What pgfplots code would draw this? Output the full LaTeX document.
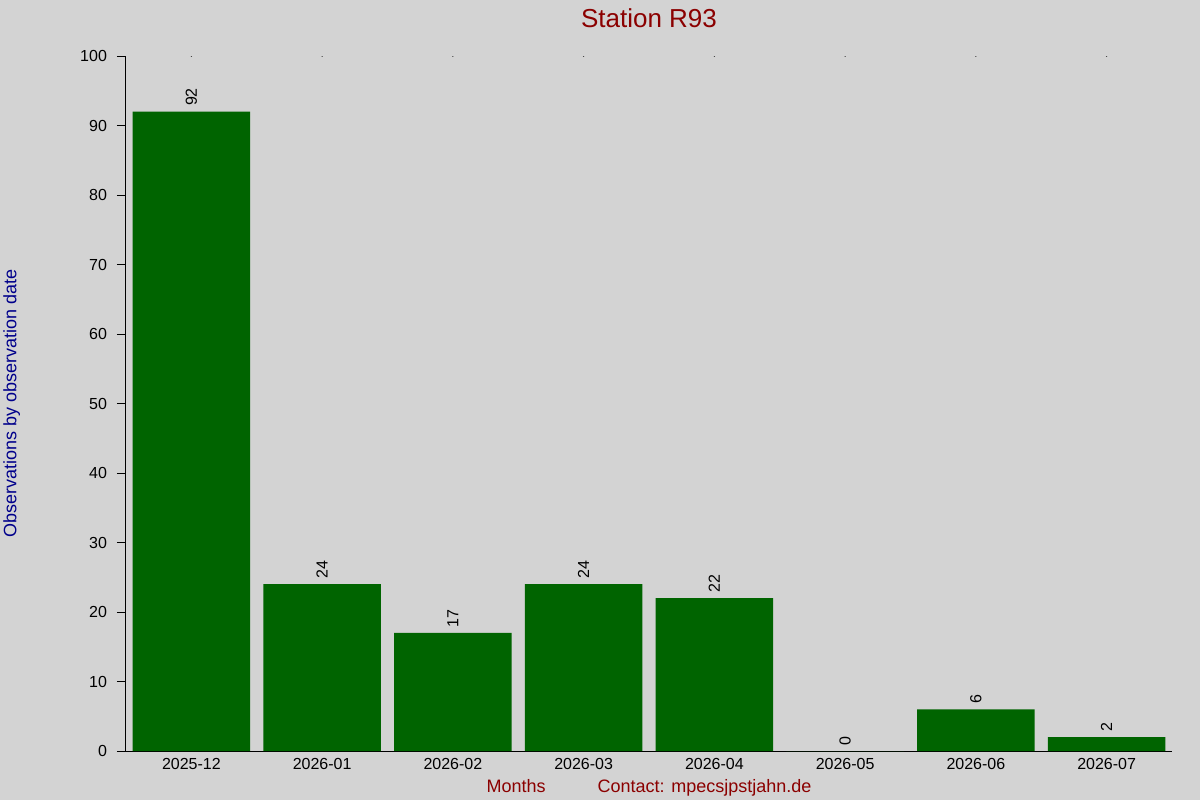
\documentclass[border=0pt]{standalone}
\usepackage{pgfplots}
\pgfplotsset{compat=1.18}
\usepackage{fontspec}
\setmainfont{Liberation Sans}

\definecolor{bg}{HTML}{D3D3D3}
\definecolor{bar}{HTML}{006400}
\definecolor{ttl}{HTML}{8B0000}
\definecolor{ylab}{HTML}{00008B}

\begin{document}
\begin{tikzpicture}
  % page background, 600pt x 400pt
  \fill[bg] (-63pt,-24.5pt) rectangle (537pt,375.5pt);
  \begin{axis}[
      at={(0,0)}, anchor=south west,
      scale only axis,
      width=523pt, height=347.5pt,
      axis x line*=bottom,
      axis y line*=left,
      axis line style={black, line width=0.5pt},
      xmin=-0.5, xmax=7.5,
      ymin=0, ymax=100,
      ytick={0,10,...,100},
      xtick=data,
      xticklabels={2025-12,2026-01,2026-02,2026-03,2026-04,2026-05,2026-06,2026-07},
      x tick style={draw=none},
      y tick style={black, line width=0.5pt},
      tick align=outside,
      major tick length=4.5pt,
      tick label style={font=\fontsize{8}{9}\selectfont, black},
      xticklabel style={yshift=4.5pt},
      yticklabel style={xshift=-1.5pt},
      /pgf/number format/assume math mode=true,
      ybar, bar width=0.9, bar shift=0pt,
      nodes near coords,
      every node near coord/.append style={rotate=90, anchor=west,
        font=\fontsize{8}{9}\selectfont, black, xshift=-0.7pt},
      every axis title shift=0pt,
      title={Station R93},
      title style={at={(axis description cs:0.5,1.0403)}, anchor=base,
        font=\fontsize{13}{15}\selectfont, text=ttl},
      xlabel={Months\hspace{26pt}Contact: mpecsjpstjahn.de},
      xlabel style={at={(axis description cs:0.5,-0.059)}, anchor=base,
        font=\fontsize{9}{11}\selectfont, text=ttl},
      ylabel={Observations by observation date},
      ylabel style={at={(axis description cs:-0.1048,0.5)}, anchor=base,
        rotate=0, font=\fontsize{9}{11}\selectfont, text=ylab},
    ]
    \addplot[draw=none, fill=bar] coordinates {
      (0,92) (1,24) (2,17) (3,24) (4,22) (5,0) (6,6) (7,2)
    };
    % small tick dots along the top
    \pgfplotsinvokeforeach{0,...,7}{
      \fill[black] (axis cs:#1,100) circle[radius=0.4pt];
    }
  \end{axis}
  \pgfresetboundingbox
  \path (-63pt,-24.5pt) rectangle (537pt,375.5pt);
\end{tikzpicture}
\end{document}
